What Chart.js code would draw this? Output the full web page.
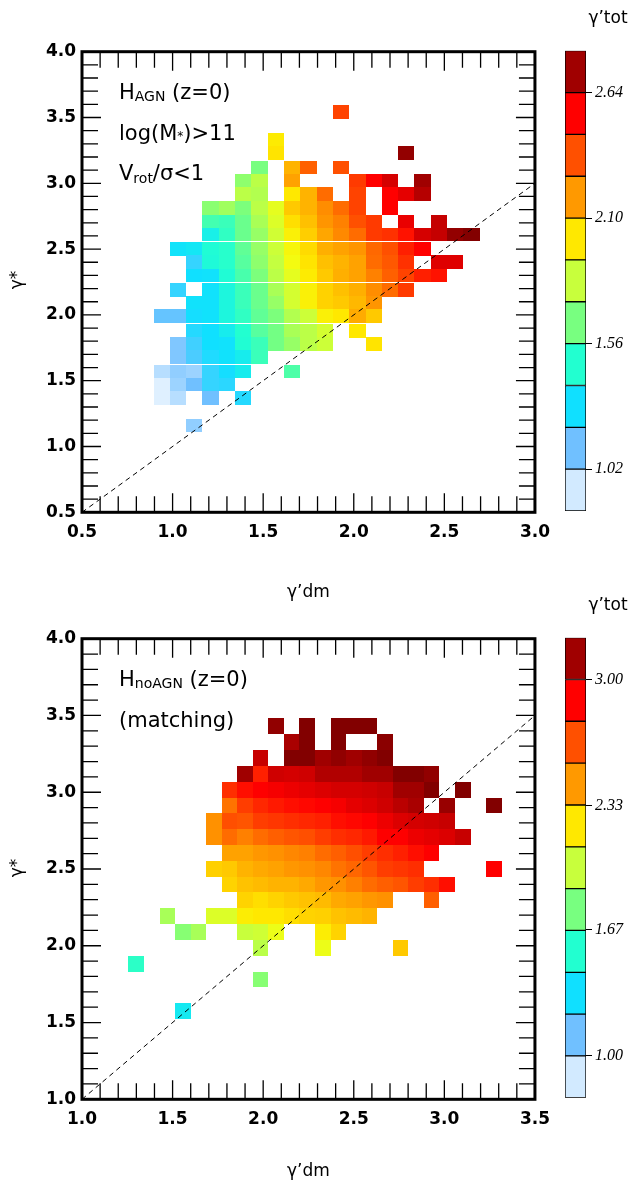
<!DOCTYPE html>
<html>
<head>
<meta charset="utf-8">
<script src="https://cdn.jsdelivr.net/npm/chart.js@4.4.1/dist/chart.umd.min.js"></script>
<style>
  html, body { margin: 0; padding: 0; background: #fff; }
  #wrap { position: relative; width: 630px; height: 1183px; overflow: hidden; }
  canvas { position: absolute; }
</style>
</head>
<body>
<div id="wrap">
  <canvas id="mapTop" width="560" height="610" style="left:0;top:0"></canvas>
  <canvas id="barTop" width="90" height="586" style="left:540px;top:0"></canvas>
  <canvas id="mapBot" width="560" height="596" style="left:0;top:587px"></canvas>
  <canvas id="barBot" width="90" height="596" style="left:540px;top:587px"></canvas>
</div>
<script>
const _ = null;

// ---------- top panel: H_AGN, log(M*)>11, Vrot/sigma<1 ----------
const topX = [0.94, 1.03, 1.12, 1.21, 1.30, 1.39, 1.48, 1.57, 1.66, 1.75,
              1.84, 1.93, 2.02, 2.11, 2.20, 2.29, 2.38, 2.47, 2.56, 2.65];
const topY = [3.54, 3.43, 3.33, 3.23, 3.12, 3.02, 2.92, 2.81, 2.71, 2.61, 2.50, 2.40,
              2.30, 2.19, 2.09, 1.99, 1.88, 1.78, 1.68, 1.57, 1.47, 1.37, 1.26, 1.16];
// gamma'_tot in each cell, rows top -> bottom, columns left -> right
const topGamma = [
  [_,_,_,_,_,_,_,_,_,_,_,2.40,_,_,_,_,_,_,_,_],
  [_,_,_,_,_,_,_,_,_,_,_,_,_,_,_,_,_,_,_,_],
  [_,_,_,_,_,_,_,2.00,_,_,_,_,_,_,_,_,_,_,_,_],
  [_,_,_,_,_,_,_,2.02,_,_,_,_,_,_,_,2.78,_,_,_,_],
  [_,_,_,_,_,_,1.65,_,2.13,2.33,_,2.37,_,_,_,_,_,_,_,_],
  [_,_,_,_,_,1.70,1.80,_,2.17,_,_,_,2.42,2.55,2.63,_,2.73,_,_,_],
  [_,_,_,_,_,1.80,1.78,_,2.01,2.13,2.30,_,2.40,_,2.55,2.60,2.69,_,_,_],
  [_,_,_,1.69,1.74,1.66,1.80,1.90,2.08,2.13,2.22,2.30,2.40,_,2.55,_,_,_,_,_],
  [_,_,_,1.54,1.52,1.62,1.76,1.88,2.03,2.10,2.20,2.25,2.37,2.42,_,2.59,_,2.66,_,_],
  [_,_,_,1.38,1.50,1.62,1.72,1.85,1.98,2.07,2.16,2.23,2.30,2.42,2.44,2.51,2.63,2.66,2.78,2.84],
  [_,1.31,1.33,1.45,1.48,1.60,1.72,1.84,1.96,2.04,2.14,2.17,2.20,2.31,2.37,2.48,2.55,_,_,_],
  [_,_,1.22,1.44,1.48,1.58,1.70,1.82,1.94,2.02,2.10,2.13,2.17,2.30,2.35,2.44,_,2.61,2.61,_],
  [_,_,1.29,1.30,1.45,1.55,1.66,1.80,1.90,2.00,2.08,2.14,2.17,2.25,2.33,2.40,2.48,2.51,_,_],
  [_,1.22,_,1.30,1.42,1.52,1.62,1.76,1.86,1.98,2.06,2.10,2.14,2.22,2.30,2.42,_,_,_,_],
  [_,_,1.30,1.30,1.42,1.52,1.62,1.72,1.86,1.98,2.06,2.08,2.12,2.20,_,_,_,_,_,_],
  [1.13,1.13,1.28,1.30,1.42,1.50,1.60,1.66,1.78,1.84,1.98,2.01,2.15,2.08,_,_,_,_,_,_],
  [_,_,1.25,1.29,1.36,1.47,1.58,1.64,1.76,1.80,1.86,_,2.01,_,_,_,_,_,_,_],
  [_,1.08,1.20,1.29,1.30,1.46,1.52,1.64,1.72,1.80,1.84,_,_,2.02,_,_,_,_,_,_],
  [_,1.08,1.18,1.26,1.30,1.36,1.52,_,_,_,_,_,_,_,_,_,_,_,_,_],
  [0.98,1.05,1.03,1.22,1.28,1.36,_,_,1.56,_,_,_,_,_,_,_,_,_,_,_],
  [0.88,1.03,1.11,1.22,1.24,_,_,_,_,_,_,_,_,_,_,_,_,_,_,_],
  [0.88,0.98,_,1.11,_,1.25,_,_,_,_,_,_,_,_,_,_,_,_,_,_],
  [_,_,_,_,_,_,_,_,_,_,_,_,_,_,_,_,_,_,_,_],
  [_,_,1.05,_,_,_,_,_,_,_,_,_,_,_,_,_,_,_,_,_]
];
const topXTicks = [0.5, 1.0, 1.5, 2.0, 2.5, 3.0];
const topYTicks = [0.5, 1.0, 1.5, 2.0, 2.5, 3.0, 3.5, 4.0];
const topLevels = [0.84, 1.02, 1.20, 1.38, 1.56, 1.74, 1.92, 2.10, 2.28, 2.46, 2.64, 2.82];
const topBarTicks = [1.02, 1.56, 2.10, 2.64];

// ---------- bottom panel: H_noAGN (matching) ----------
const botX = [1.299, 1.385, 1.471, 1.557, 1.643, 1.728, 1.814, 1.900, 1.986, 2.072, 2.157, 2.243,
              2.329, 2.415, 2.500, 2.586, 2.672, 2.758, 2.844, 2.930, 3.016, 3.102, 3.188, 3.274];
const botY = [3.430, 3.327, 3.224, 3.120, 3.017, 2.914, 2.811, 2.708, 2.605, 2.502,
              2.399, 2.296, 2.192, 2.089, 1.986, 1.883, 1.780, 1.677, 1.574];
const botGamma = [
  [_,_,_,_,_,_,_,_,_,3.18,_,3.25,_,3.25,3.25,3.25,_,_,_,_,_,_,_,_],
  [_,_,_,_,_,_,_,_,_,_,3.09,3.25,_,3.25,_,_,3.21,_,_,_,_,_,_,_],
  [_,_,_,_,_,_,_,_,3.02,_,3.25,3.25,3.11,3.18,3.11,3.18,3.25,_,_,_,_,_,_,_],
  [_,_,_,_,_,_,_,3.11,2.80,3.00,2.99,3.00,3.07,3.07,3.07,3.11,3.11,3.25,3.25,3.18,_,_,_,_],
  [_,_,_,_,_,_,2.76,2.85,2.89,2.91,2.93,2.95,2.97,2.99,2.99,3.00,3.02,3.11,3.11,3.25,_,3.25,_,_],
  [_,_,_,_,_,_,2.56,2.72,2.78,2.82,2.85,2.87,2.89,2.91,2.95,2.97,3.00,3.05,3.09,_,3.15,_,_,3.25],
  [_,_,_,_,_,2.47,2.67,2.65,2.72,2.74,2.76,2.78,2.80,2.85,2.87,2.89,2.93,2.97,2.99,3.00,3.02,_,_,_],
  [_,_,_,_,_,2.47,2.58,2.52,2.58,2.62,2.65,2.67,2.72,2.76,2.78,2.82,2.89,2.89,2.93,2.95,2.97,3.02,_,_],
  [_,_,_,_,_,_,2.42,2.42,2.45,2.47,2.50,2.52,2.58,2.62,2.67,2.72,2.76,2.80,2.85,2.89,_,_,_,_],
  [_,_,_,_,_,2.29,2.31,2.37,2.40,2.42,2.45,2.47,2.50,2.56,2.60,2.65,2.72,2.74,2.76,_,_,_,_,2.89],
  [_,_,_,_,_,_,2.28,2.33,2.35,2.37,2.37,2.40,2.45,2.47,2.52,2.58,2.62,2.65,2.72,2.76,2.85,_,_,_],
  [_,_,_,_,_,_,_,2.28,2.25,2.28,2.31,2.33,2.35,2.40,2.42,2.45,2.47,_,_,2.62,_,_,_,_],
  [_,_,1.91,_,_,2.06,2.06,2.20,2.22,2.22,2.25,2.28,2.29,2.33,2.35,2.37,_,_,_,_,_,_,_,_],
  [_,_,_,1.82,1.91,_,_,2.00,2.02,2.11,_,_,2.20,2.28,_,_,_,_,_,_,_,_,_,_],
  [_,_,_,_,_,_,_,_,1.96,_,_,_,2.11,_,_,_,_,2.31,_,_,_,_,_,_],
  [1.58,_,_,_,_,_,_,_,_,_,_,_,_,_,_,_,_,_,_,_,_,_,_,_],
  [_,_,_,_,_,_,_,_,1.82,_,_,_,_,_,_,_,_,_,_,_,_,_,_,_],
  [_,_,_,_,_,_,_,_,_,_,_,_,_,_,_,_,_,_,_,_,_,_,_,_],
  [_,_,_,1.40,_,_,_,_,_,_,_,_,_,_,_,_,_,_,_,_,_,_,_,_]
];
const botXTicks = [1.0, 1.5, 2.0, 2.5, 3.0, 3.5];
const botYTicks = [1.0, 1.5, 2.0, 2.5, 3.0, 3.5, 4.0];
const botLevels = [0.778, 1.00, 1.222, 1.444, 1.667, 1.889, 2.111, 2.333, 2.556, 2.778, 3.00, 3.222];
const botBarTicks = [1.00, 1.67, 2.33, 3.00];

// colour of each of the 11 levels of the colour bar
const levelColors = ['#d2eaff', '#70c0ff', '#10e0ff', '#22ffd0', '#78ff80', '#c8ff3c',
                     '#ffe800', '#ff9900', '#ff5000', '#ff0000', '#a00000'];

// continuous map used for the cells (stops at level centres)
const stops = [[-0.6, '#eef6ff'], [0, '#d2eaff'], [1, '#70c0ff'], [2, '#10e0ff'], [3, '#22ffd0'],
               [4, '#78ff80'], [5, '#c8ff3c'], [5.6, '#f4fc10'], [6, '#ffe800'], [7, '#ff9900'],
               [8, '#ff5000'], [9, '#ff0000'], [10, '#a00000'], [11, '#700000']];

function hex(c) { return [1, 3, 5].map(i => parseInt(c.substr(i, 2), 16)); }

function cellColor(v, levels) {
  const L = (v - levels[0]) / (levels[levels.length - 1] - levels[0]) * (levels.length - 1) - 0.5;
  if (L <= stops[0][0]) return stops[0][1];
  for (let i = 1; i < stops.length; i++) {
    if (L <= stops[i][0]) {
      const f = (L - stops[i - 1][0]) / (stops[i][0] - stops[i - 1][0]);
      const a = hex(stops[i - 1][1]), b = hex(stops[i][1]);
      return 'rgb(' + a.map((q, j) => Math.round(q + (b[j] - q) * f)).join(',') + ')';
    }
  }
  return stops[stops.length - 1][1];
}

const SANS = '"DejaVu Sans", "Liberation Sans", sans-serif';

function drawRuns(ctx, x, y, parts) {
  parts.forEach(([t, size, dy]) => {
    ctx.font = size + 'px ' + SANS;
    ctx.fillText(t, x, y + (dy || 0));
    x += ctx.measureText(t).width;
  });
}

function heatPanel(id, p) {
  const dx = (p.xs[p.xs.length - 1] - p.xs[0]) / (p.xs.length - 1);
  const dy = (p.ys[0] - p.ys[p.ys.length - 1]) / (p.ys.length - 1);

  const heatPlugin = {
    id: 'heat',
    beforeDatasetsDraw(chart) {
      const { ctx, scales: { x, y } } = chart;
      ctx.save();
      p.grid.forEach((row, r) => row.forEach((v, c) => {
        if (v === null) return;
        const x0 = Math.round(x.getPixelForValue(p.xs[c] - dx / 2));
        const x1 = Math.round(x.getPixelForValue(p.xs[c] + dx / 2));
        const y0 = Math.round(y.getPixelForValue(p.ys[r] + dy / 2));
        const y1 = Math.round(y.getPixelForValue(p.ys[r] - dy / 2));
        ctx.fillStyle = cellColor(v, p.levels);
        ctx.fillRect(x0, y0, x1 - x0, y1 - y0);
      }));
      ctx.restore();
    },
    afterDatasetsDraw(chart) {
      const { ctx, chartArea: a, scales: { x, y } } = chart;
      ctx.save();
      ctx.strokeStyle = '#000';
      ctx.lineWidth = 1.3;
      ctx.beginPath();
      const nx = Math.round((p.xmax - p.xmin) / 0.1);
      for (let i = 0; i <= nx; i++) {
        const px = x.getPixelForValue(p.xmin + i * 0.1);
        const len = i % 5 === 0 ? 19 : 16;
        ctx.moveTo(px, a.bottom); ctx.lineTo(px, a.bottom - len);
        ctx.moveTo(px, a.top); ctx.lineTo(px, a.top + len);
      }
      const ny = Math.round((p.ymax - p.ymin) / 0.1);
      for (let i = 0; i <= ny; i++) {
        const py = y.getPixelForValue(p.ymin + i * 0.1);
        const len = i % 5 === 0 ? 19 : 16;
        ctx.moveTo(a.left, py); ctx.lineTo(a.left + len, py);
        ctx.moveTo(a.right, py); ctx.lineTo(a.right - len, py);
      }
      ctx.stroke();
      ctx.lineWidth = 3;
      ctx.strokeRect(a.left, a.top, a.right - a.left, a.bottom - a.top);
      ctx.restore();
    },
    afterDraw(chart) {
      const { ctx, chartArea: a } = chart;
      ctx.save();
      ctx.fillStyle = '#000';
      ctx.textBaseline = 'alphabetic';
      ctx.textAlign = 'left';
      p.notes.forEach(([nx, ny, parts]) => drawRuns(ctx, nx, ny, parts));
      ctx.font = '17px ' + SANS;
      ctx.textAlign = 'center';
      ctx.fillText('γ’dm', (a.left + a.right) / 2, p.xTitleY);
      ctx.translate(18, p.yTitleY);
      ctx.rotate(-Math.PI / 2);
      ctx.textBaseline = 'middle';
      ctx.fillText('γ*', 0, 0);
      ctx.restore();
    }
  };

  const tickFont = { family: SANS, weight: 'bold', size: 17 };
  new Chart(document.getElementById(id), {
    type: 'scatter',
    data: {
      datasets: [{
        data: [{ x: p.xmin, y: p.xmin }, { x: p.xmax, y: p.xmax }],
        showLine: true,
        borderColor: '#000',
        borderWidth: 1,
        borderDash: [5, 4],
        pointRadius: 0,
        fill: false
      }]
    },
    options: {
      responsive: false,
      animation: false,
      events: [],
      layout: { padding: { left: 0, top: 51.7, right: 18, bottom: p.padBottom } },
      plugins: { legend: { display: false }, tooltip: { enabled: false } },
      scales: {
        x: {
          type: 'linear', min: p.xmin, max: p.xmax,
          afterBuildTicks: s => { s.ticks = p.xTicks.map(v => ({ value: v })); },
          afterFit: s => { s.height = 40; },
          grid: { display: false, drawTicks: false },
          border: { display: false },
          ticks: { color: '#000', font: tickFont, padding: 10, maxRotation: 0, autoSkip: false,
                   callback: v => v.toFixed(1) }
        },
        y: {
          type: 'linear', min: p.ymin, max: p.ymax,
          afterBuildTicks: s => { s.ticks = p.yTicks.map(v => ({ value: v })); },
          afterFit: s => { s.width = 82; },
          grid: { display: false, drawTicks: false },
          border: { display: false },
          ticks: { color: '#000', font: tickFont, padding: 6, autoSkip: false,
                   callback: v => v.toFixed(1) }
        }
      }
    },
    plugins: [heatPlugin]
  });
}

function colorBar(id, levels, ticks, padBottom) {
  const titlePlugin = {
    id: 'cbTitle',
    afterDraw(chart) {
      const ctx = chart.ctx;
      ctx.save();
      ctx.fillStyle = '#000';
      ctx.font = '17px ' + SANS;
      ctx.textAlign = 'center';
      ctx.fillText('γ’tot', 68, 23);
      ctx.restore();
    }
  };
  new Chart(document.getElementById(id), {
    type: 'bar',
    data: {
      labels: [''],
      datasets: levelColors.map((c, i) => ({
        data: [[levels[i], levels[i + 1]]],
        backgroundColor: c,
        borderColor: '#000',
        borderWidth: 1,
        borderSkipped: false,
        grouped: false,
        barPercentage: 1,
        categoryPercentage: 1
      }))
    },
    options: {
      responsive: false,
      animation: false,
      events: [],
      layout: { padding: { left: 25, right: 0, top: 50.7, bottom: padBottom } },
      plugins: { legend: { display: false }, tooltip: { enabled: false } },
      scales: {
        x: { display: false },
        y: {
          position: 'right', min: levels[0], max: levels[levels.length - 1],
          afterBuildTicks: s => { s.ticks = ticks.map(v => ({ value: v })); },
          afterFit: s => { s.width = 44; },
          grid: { drawOnChartArea: false, drawTicks: true, tickLength: 6, color: '#000', lineWidth: 1 },
          border: { display: false },
          ticks: { color: '#000', padding: 3, autoSkip: false,
                   font: { family: '"Liberation Serif", "DejaVu Serif", serif', style: 'italic', size: 16 },
                   callback: v => v.toFixed(2) }
        }
      }
    },
    plugins: [titlePlugin]
  });
}

heatPanel('mapTop', {
  xs: topX, ys: topY, grid: topGamma, levels: topLevels,
  xmin: 0.5, xmax: 3.0, ymin: 0.5, ymax: 4.0,
  xTicks: topXTicks, yTicks: topYTicks, padBottom: 57.7,
  xTitleY: 597, yTitleY: 280,
  notes: [
    [119, 99, [['H', 21], ['AGN', 14, 2], [' (z=0)', 21]]],
    [119, 140, [['log(M', 21], ['*', 12], [')>11', 21]]],
    [119, 180, [['V', 21], ['rot', 14, 3], ['/σ<1', 21]]]
  ]
});
colorBar('barTop', topLevels, topBarTicks, 75);

heatPanel('mapBot', {
  xs: botX, ys: botY, grid: botGamma, levels: botLevels,
  xmin: 1.0, xmax: 3.5, ymin: 1.0, ymax: 4.0,
  xTicks: botXTicks, yTicks: botYTicks, padBottom: 43.7,
  xTitleY: 589, yTitleY: 281,
  notes: [
    [119, 99, [['H', 21], ['noAGN', 14, 2], [' (z=0)', 21]]],
    [119, 140, [['(matching)', 21]]]
  ]
});
colorBar('barBot', botLevels, botBarTicks, 85.3);
</script>
</body>
</html>
